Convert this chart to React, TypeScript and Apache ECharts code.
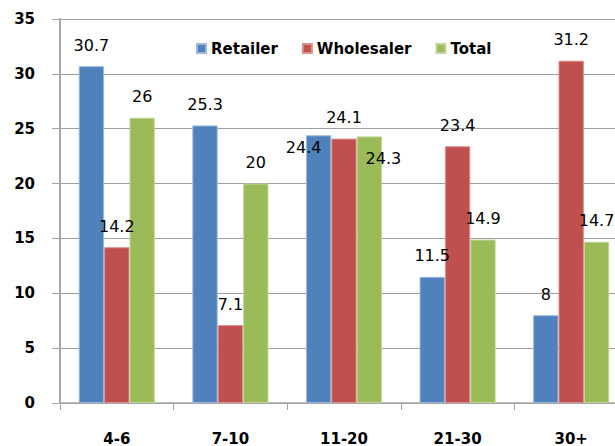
import React, { useEffect, useRef } from "react";
import * as echarts from "echarts";

// Age-band categories along the x axis
const categories = ["4-6", "7-10", "11-20", "21-30", "30+"];

// Share (%) per group
const retailer = [30.7, 25.3, 24.4, 11.5, 8];
const wholesaler = [14.2, 7.1, 24.1, 23.4, 31.2];
const total = [26, 20, 24.3, 14.9, 14.7];

const seriesNames = ["Retailer", "Wholesaler", "Total"];

// Hand-placed label nudges for the crowded 11-20 group: [series, index, dx, dy]
const labelNudges: [number, number, number, number][] = [
  [0, 2, -15, 33],
  [2, 2, 14, 43],
];

const colors = ["#4F81BD", "#C0504D", "#9BBB59"];
const edgeColors = ["#9DB8DC", "#D9908E", "#C2D69A"];

export default function App() {
  const ref = useRef<HTMLDivElement>(null);

  useEffect(() => {
    if (!ref.current) return;
    const chart = echarts.init(ref.current, undefined, { renderer: "svg" });

    const values = [retailer, wholesaler, total];
    const series = values.map((arr, si) => ({
      name: seriesNames[si],
      type: "bar" as const,
      barGap: "0%",
      barCategoryGap: "33%",
      itemStyle: {
        color: colors[si],
        borderColor: edgeColors[si],
        borderWidth: 1,
      },
      label: {
        show: true,
        position: "top" as const,
        distance: 13,
        color: "#000",
        fontFamily: "DejaVu Sans",
        fontSize: 16,
      },
      data: arr.map((v, i) => {
        const nudge = labelNudges.find((n) => n[0] === si && n[1] === i);
        return nudge
          ? { value: v, label: { offset: [nudge[2], nudge[3]] } }
          : v;
      }),
    }));

    chart.setOption({
      animation: false,
      backgroundColor: "#fff",
      textStyle: { fontFamily: "DejaVu Sans" },
      legend: {
        data: seriesNames,
        left: 192,
        top: 39,
        icon: "rect",
        itemWidth: 9,
        itemHeight: 9,
        itemGap: 24,
        textStyle: {
          fontFamily: "DejaVu Sans",
          fontWeight: "bold",
          fontSize: 15,
          color: "#000",
        },
        backgroundColor: "#fff",
        padding: [2, 4],
      },
      grid: {
        left: 60,
        right: 0,
        top: 19,
        bottom: 43,
        outerBoundsMode: "none",
      },
      xAxis: {
        type: "category",
        data: categories,
        axisLine: { lineStyle: { color: "#A6A6A6", width: 1.5 } },
        axisTick: { show: true, length: 7, lineStyle: { color: "#A6A6A6" } },
        axisLabel: {
          margin: 28,
          fontFamily: "DejaVu Sans",
          fontWeight: "bold",
          fontSize: 15,
          color: "#000",
        },
      },
      yAxis: {
        type: "value",
        min: 0,
        max: 35,
        interval: 5,
        axisLine: { show: true, lineStyle: { color: "#A6A6A6", width: 2 } },
        axisTick: { show: true, length: 8, lineStyle: { color: "#A6A6A6" } },
        axisLabel: {
          margin: 25,
          fontFamily: "DejaVu Sans",
          fontWeight: "bold",
          fontSize: 15,
          color: "#000",
        },
        splitLine: { lineStyle: { color: "#9E9E9E", width: 1 } },
      },
      series,
    });

    return () => chart.dispose();
  }, []);

  // The plot runs a little past the right edge of the visible frame
  return (
    <div
      style={{
        position: "absolute",
        left: 0,
        top: 0,
        width: 615,
        height: 446,
        overflow: "hidden",
      }}
    >
      <div ref={ref} style={{ width: 628, height: 446 }} />
    </div>
  );
}
